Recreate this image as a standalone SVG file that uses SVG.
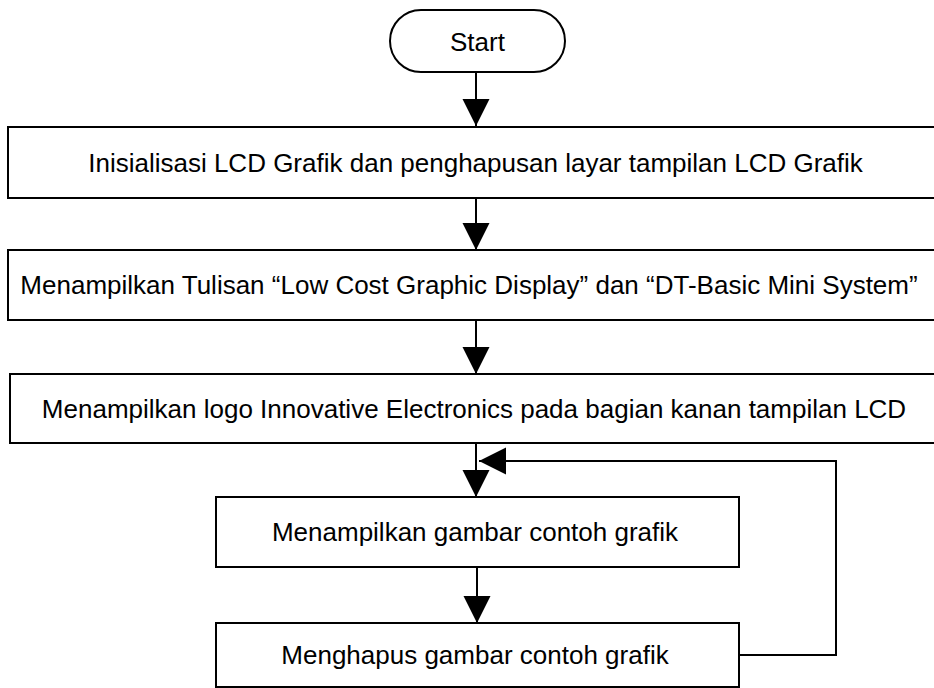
<svg xmlns="http://www.w3.org/2000/svg" width="934" height="688" viewBox="0 0 934 688">
  <defs>
    <style>
      .box { fill: #ffffff; stroke: #000000; stroke-width: 2; }
      .lbl { font-family: "Liberation Sans", Arial, sans-serif; font-size: 26px; fill: #000000; text-anchor: middle; }
      .conn { fill: none; stroke: #000000; stroke-width: 2; }
    </style>
    <marker id="arrow" markerUnits="userSpaceOnUse" markerWidth="28" markerHeight="28" refX="27" refY="13.5" orient="auto">
      <path d="M0,0 L27,13.5 L0,27 Z" fill="#000000"/>
    </marker>
  </defs>
  <rect width="934" height="688" fill="#ffffff"/>

  <g id="connectors">
    <line class="conn" x1="476" y1="72" x2="476" y2="126" marker-end="url(#arrow)"/>
    <line class="conn" x1="476" y1="198" x2="476" y2="250" marker-end="url(#arrow)"/>
    <line class="conn" x1="476" y1="320" x2="476" y2="374" marker-end="url(#arrow)"/>
    <line class="conn" x1="476" y1="443" x2="476" y2="497" marker-end="url(#arrow)"/>
    <line class="conn" x1="477" y1="567" x2="477" y2="623" marker-end="url(#arrow)"/>
    <polyline class="conn" points="739,655 836,655 836,461 479,461" marker-end="url(#arrow)"/>
  </g>

  <g id="start">
    <rect class="box" x="390" y="10" width="175" height="62" rx="31" ry="31"/>
    <text class="lbl" x="477.5" y="51">Start</text>
  </g>
  <g id="init">
    <rect class="box" x="8" y="127" width="940" height="71"/>
    <text class="lbl" x="475.5" y="172">Inisialisasi LCD Grafik dan penghapusan layar tampilan LCD Grafik</text>
  </g>
  <g id="tulisan">
    <rect class="box" x="8" y="250" width="940" height="70"/>
    <text class="lbl" x="469" y="294">Menampilkan Tulisan “Low Cost Graphic Display” dan “DT-Basic Mini System”</text>
  </g>
  <g id="logo">
    <rect class="box" x="10" y="374" width="940" height="69"/>
    <text class="lbl" x="474" y="418">Menampilkan logo Innovative Electronics pada bagian kanan tampilan LCD</text>
  </g>
  <g id="gambar">
    <rect class="box" x="216" y="497" width="523" height="70"/>
    <text class="lbl" x="475" y="541">Menampilkan gambar contoh grafik</text>
  </g>
  <g id="hapus">
    <rect class="box" x="216" y="623" width="523" height="64"/>
    <text class="lbl" x="475" y="664">Menghapus gambar contoh grafik</text>
  </g>
</svg>
